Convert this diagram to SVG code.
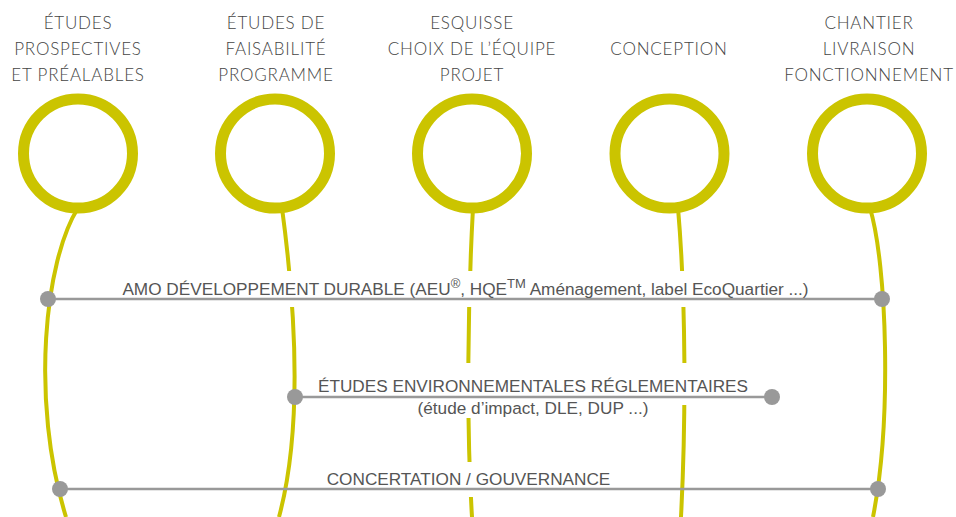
<svg xmlns="http://www.w3.org/2000/svg" width="956" height="517" viewBox="0 0 956 517">
  <style>
    .hdr { font-family: Lato, "Liberation Sans", sans-serif; font-weight: 300; font-size: 17px; letter-spacing: 0.8px; fill: #444; text-anchor: middle; }
    .lbl { font-family: "Liberation Sans", Arial, sans-serif; font-size: 17.2px; fill: #555; text-anchor: middle; }
    .sup { font-size: 13px; }
    .ring { fill: none; stroke: #cbc400; stroke-width: 11; }
    .stem { fill: none; stroke: #cbc400; stroke-width: 4; }
    .bar { stroke: #999; stroke-width: 2.5; }
    .dot { fill: #999; }
  </style>
  <defs>
    <mask id="gaps" maskUnits="userSpaceOnUse" x="0" y="0" width="956" height="517">
      <rect x="0" y="0" width="956" height="517" fill="#fff"/>
      <rect x="115" y="271" width="700" height="36" fill="#000"/>
      <rect x="318" y="363" width="430" height="42" fill="#000"/>
      <rect x="410" y="405" width="245" height="13" fill="#000"/>
      <rect x="322" y="462" width="293" height="35" fill="#000"/>
    </mask>
  </defs>
  <rect width="956" height="517" fill="#fff"/>

  <g id="stems" mask="url(#gaps)">
    <path class="stem" d="M78,208 C45,260 30,400 66,517"/>
    <path class="stem" d="M282,208 C293,290 305,420 279,517"/>
    <path class="stem" d="M473,208 C468,300 466,420 472,517"/>
    <path class="stem" d="M678,208 C686,300 686,420 681,517"/>
    <path class="stem" d="M870,208 C887,265 892,420 873,517"/>
  </g>

  <g id="phase1">
    <circle class="ring" cx="78" cy="153.5" r="54.5"/>
    <text class="hdr" x="78" y="29">ÉTUDES</text>
    <text class="hdr" x="78" y="55">PROSPECTIVES</text>
    <text class="hdr" x="78" y="81">ET PRÉALABLES</text>
  </g>
  <g id="phase2">
    <circle class="ring" cx="275" cy="153.5" r="54.5"/>
    <text class="hdr" x="276" y="29">ÉTUDES DE</text>
    <text class="hdr" x="276" y="55">FAISABILITÉ</text>
    <text class="hdr" x="276" y="81">PROGRAMME</text>
  </g>
  <g id="phase3">
    <circle class="ring" cx="472" cy="153.5" r="54.5"/>
    <text class="hdr" x="472" y="29">ESQUISSE</text>
    <text class="hdr" x="472" y="55">CHOIX DE L’ÉQUIPE</text>
    <text class="hdr" x="472" y="81">PROJET</text>
  </g>
  <g id="phase4">
    <circle class="ring" cx="669.5" cy="153.5" r="54.5"/>
    <text class="hdr" x="669" y="55">CONCEPTION</text>
  </g>
  <g id="phase5">
    <circle class="ring" cx="867" cy="153.5" r="54.5"/>
    <text class="hdr" x="869" y="29">CHANTIER</text>
    <text class="hdr" x="869" y="55">LIVRAISON</text>
    <text class="hdr" x="869" y="81">FONCTIONNEMENT</text>
  </g>

  <g id="connectors">
    <line class="bar" x1="48" y1="299" x2="882" y2="299"/>
    <circle class="dot" cx="48" cy="299" r="8"/>
    <circle class="dot" cx="882" cy="299" r="8"/>

    <line class="bar" x1="295" y1="397" x2="772" y2="397"/>
    <circle class="dot" cx="295" cy="397" r="8"/>
    <circle class="dot" cx="772" cy="397" r="8"/>

    <line class="bar" x1="60" y1="489" x2="878" y2="489"/>
    <circle class="dot" cx="60" cy="489" r="8"/>
    <circle class="dot" cx="878" cy="489" r="8"/>
  </g>

  <g id="labels">
    <text class="lbl" x="465.5" y="295">AMO DÉVELOPPEMENT DURABLE (AEU<tspan class="sup" dy="-7">®</tspan><tspan dy="7">, HQE</tspan><tspan class="sup" dy="-7">TM</tspan><tspan dy="7"> Aménagement, label EcoQuartier ...)</tspan></text>
    <text class="lbl" x="533" y="392">ÉTUDES ENVIRONNEMENTALES RÉGLEMENTAIRES</text>
    <text class="lbl" x="533" y="414">(étude d’impact, DLE, DUP ...)</text>
    <text class="lbl" x="468.5" y="485">CONCERTATION / GOUVERNANCE</text>
  </g>
</svg>
